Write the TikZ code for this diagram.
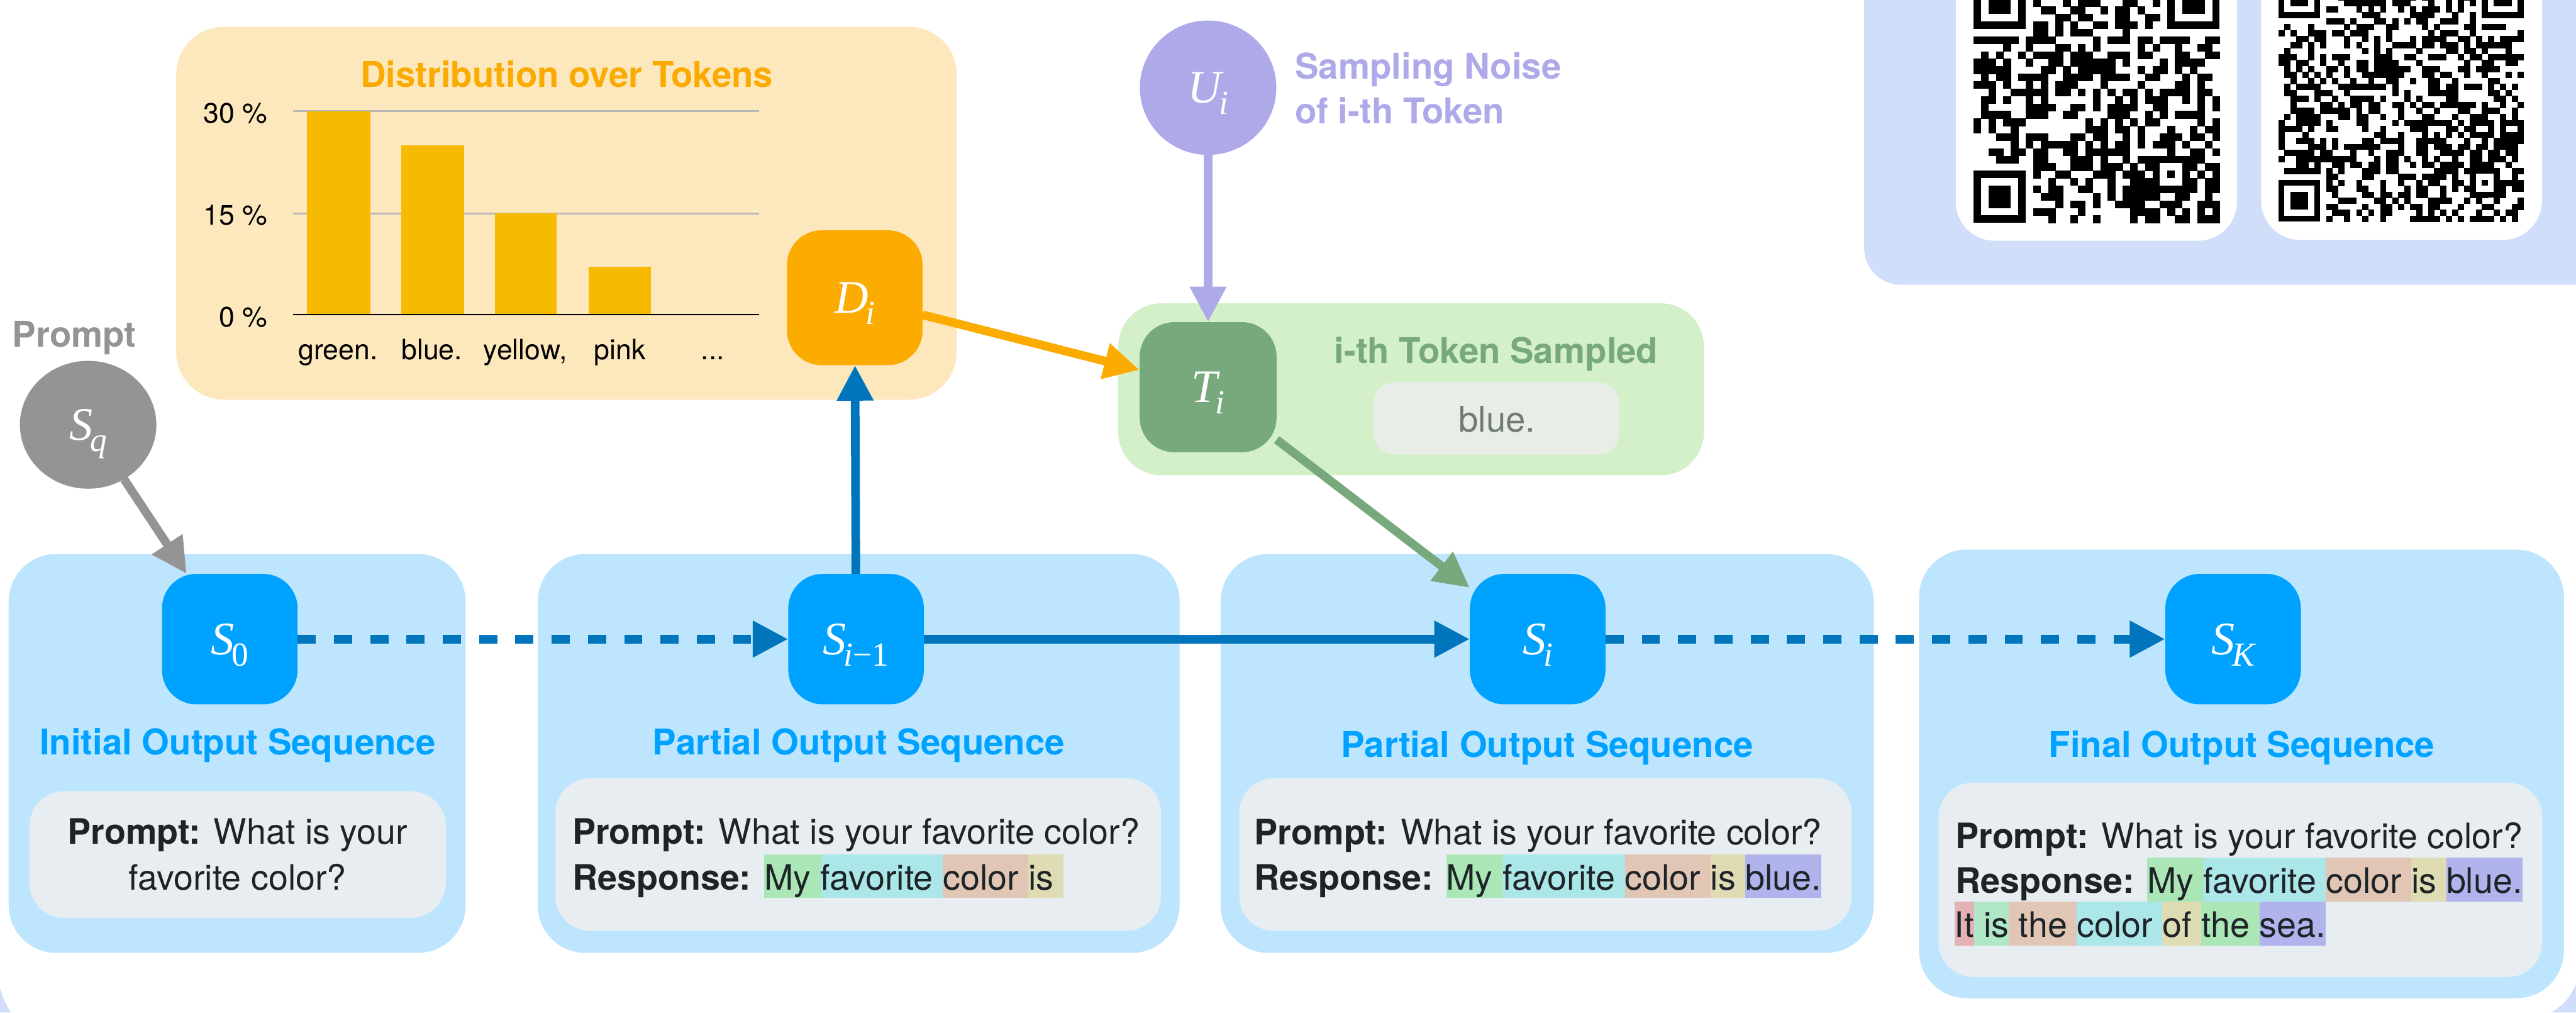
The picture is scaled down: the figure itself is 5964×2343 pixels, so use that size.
\documentclass[tikz,border=0pt]{standalone}
\usepackage{fontspec}
\setmainfont{TeX Gyre Heros}
\newfontfamily\mfont{Liberation Serif}
\usetikzlibrary{arrows.meta,shapes.geometric}
\definecolor{bglav}{HTML}{D0DEFA}
\definecolor{boxblue}{HTML}{BDE5FD}
\definecolor{nodeblue}{HTML}{00A2FF}
\definecolor{arrowblue}{HTML}{0075BC}
\definecolor{graybox}{HTML}{E8EDF1}
\definecolor{bodytext}{HTML}{1E2327}
\definecolor{distbox}{HTML}{FDE8BE}
\definecolor{barc}{HTML}{F6BB00}
\definecolor{torange}{HTML}{FAAA00}
\definecolor{dorange}{HTML}{FCAC00}
\definecolor{gridc}{HTML}{B9B9B9}
\definecolor{ulav}{HTML}{AEA9E8}
\definecolor{greenbox}{HTML}{D3F0C8}
\definecolor{tgreen}{HTML}{78A97C}
\definecolor{tokbox}{HTML}{E8EEE7}
\definecolor{tokgray}{HTML}{6F7C6F}
\definecolor{sgray}{HTML}{949494}
\definecolor{hgreen}{HTML}{ABE7B6}
\definecolor{hcyan}{HTML}{ABE7E9}
\definecolor{hpeach}{HTML}{E1C6B5}
\definecolor{hkhaki}{HTML}{DFDCB3}
\definecolor{hlav}{HTML}{B0B3EC}
\definecolor{hpink}{HTML}{E4B1B4}
\definecolor{hmint}{HTML}{B0E8C7}
\newcommand{\fbody}{\fontsize{81}{97}\selectfont}
\newcommand{\fhead}{\fontsize{82}{98}\selectfont}
\newcommand{\fchart}{\fontsize{65}{78}\selectfont}
\newcommand{\hl}[2]{{\setlength{\fboxsep}{0pt}\colorbox{#1}{\rule[-19pt]{0pt}{101pt}#2}}}
\newcommand{\ml}[2]{{\mfont\fontsize{108}{110}\selectfont\itshape #1}\kern-6pt{\mfont\fontsize{78}{80}\selectfont\raisebox{-26pt}{#2}}}
\newcommand{\finder}[3]{%
  \fill[black] ({#1},{#2}) rectangle ++({7*#3},{7*#3});
  \fill[white] ({#1+#3},{#2+#3}) rectangle ++({5*#3},{5*#3});
  \fill[black] ({#1+2*#3},{#2+2*#3}) rectangle ++({3*#3},{3*#3});}
\newcommand{\myqr}[5]{%
  \pgfmathsetseed{#5}%
  \pgfmathtruncatemacro{\qn}{#4-1}%
  \pgfmathtruncatemacro{\qb}{#4-9}%
  \foreach \i in {0,...,\qn}{\foreach \j in {0,...,\qn}{%
    \pgfmathtruncatemacro{\v}{(rnd<0.5)*(1-((\i<8)*(\j<8)+(\i>\qb)*(\j<8)+(\i<8)*(\j>\qb)))}%
    \ifnum\v=1 \fill[black] ({#1+\i*#3},{#2+\j*#3}) rectangle ++({#3+0.6},{#3+0.6});\fi
  }}%
  \finder{#1}{#2}{#3}
  \finder{#1+(#4-7)*#3}{#2}{#3}
  \finder{#1}{#2+(#4-7)*#3}{#3}
  \fill[black] ({#1+(#4-9)*#3},{#2+(#4-9)*#3}) rectangle ++({5*#3},{5*#3});
  \fill[white] ({#1+(#4-8)*#3},{#2+(#4-8)*#3}) rectangle ++({3*#3},{3*#3});
  \fill[black] ({#1+(#4-7)*#3},{#2+(#4-7)*#3}) rectangle ++({#3},{#3});
}
\begin{document}
\begin{tikzpicture}[x=1pt,y=-1pt,
  snode/.style={rectangle, rounded corners=80pt, fill=nodeblue, minimum width=314pt, minimum height=302pt, inner sep=0pt, text depth=0pt, text=white},
  cnode/.style={ellipse, minimum width=316pt, inner sep=0pt, text depth=0pt, text=white},
  conn/.style={line width=20pt, -{Triangle[length=82pt,width=80pt]}},
  dpat/.style={dash pattern=on 42pt off 42pt},
  head/.style={anchor=base, text=nodeblue, font=\fhead\bfseries, inner sep=0pt},
  body/.style={anchor=base west, text=bodytext, font=\fbody, inner sep=0pt},
  clab/.style={anchor=base, font=\fchart, inner sep=0pt},
  bigbox/.style={fill=boxblue, rounded corners=110pt},
  txtbox/.style={fill=graybox, rounded corners=80pt}]
\useasboundingbox (0,0) rectangle (5964,2343);
\clip (0,0) rectangle (5964,2343);
\fill[white] (0,0) rectangle (5964,2343);
% lavender corners of the poster background
\fill[bglav] (0,2287) .. controls (8,2311) and (12,2322) .. (25,2343) -- (0,2343) -- cycle;
\fill[bglav] (5964,2277) .. controls (5947,2313) and (5940,2321) .. (5907,2343) -- (5964,2343) -- cycle;
% QR panel
\fill[bglav, rounded corners=85pt] (4316,-300) rectangle (6200,659);
\fill[white, rounded corners=90pt] (4528,-300) rectangle (5179,557);
\fill[white, rounded corners=90pt] (5235,-300) rectangle (5885,555);
\myqr{4569}{-54}{17.27}{33}{11}
\myqr{5275}{-55}{13.85}{41}{23}
% distribution panel
\fill[fill=distbox, rounded corners=110pt] (408,62) rectangle (2215,925);
\node[anchor=base, text=torange, font=\fhead\bfseries, inner sep=0pt] (dtitle) at (1312,201) {Distribution over Tokens};
\draw[gridc, line width=4pt] (678,257) -- (1757,257);
\draw[gridc, line width=4pt] (678,494) -- (1757,494);
\fill[barc] (711,257) rectangle (858,728);
\fill[barc] (929,336) rectangle (1074,728);
\fill[barc] (1146,494) rectangle (1289,728);
\fill[barc] (1363,618) rectangle (1507,728);
\draw[black, line width=4pt] (678,728) -- (1757,728);
\node[clab, anchor=base east] (y30) at (619,285) {30 \%};
\node[clab, anchor=base east] (y15) at (619,520) {15 \%};
\node[clab, anchor=base east] (y0) at (619,756) {0 \%};
\node[clab] (xg) at (783,832) {green.};
\node[clab] (xb) at (1000,832) {blue.};
\node[clab] (xy) at (1216,832) {yellow,};
\node[clab] (xp) at (1435,832) {pink};
\node[clab] (xd) at (1650,832) {...};
% token sampled panel
\fill[greenbox, rounded corners=100pt] (2589,702) rectangle (3945,1100);
\fill[tokbox, rounded corners=50pt] (3180,884) rectangle (3749,1052);
\node[anchor=base, text=tgreen, font=\fhead\bfseries, inner sep=0pt] (ttitle) at (3464,841) {i-th Token Sampled};
\node[anchor=base, text=tokgray, font=\fhead, inner sep=0pt] (tok) at (3466,999) {blue.};
% noise label
\node[anchor=base west, text=ulav, font=\fhead\bfseries, inner sep=0pt] (nl1) at (2998,183) {Sampling Noise};
\node[anchor=base west, text=ulav, font=\fhead\bfseries, inner sep=0pt] (nl2) at (2998,286) {of i-th Token};
\node[anchor=base, text=sgray, font=\fhead\bfseries, inner sep=0pt] (plab) at (172,803) {Prompt};
% sequence panels
\fill[bigbox] (20,1282) rectangle (1078,2205);
\fill[bigbox] (1245,1282) rectangle (2731,2205);
\fill[bigbox] (2826,1282) rectangle (4338,2205);
\fill[bigbox] (4443,1272) rectangle (5936,2310);
\fill[txtbox] (68,1831) rectangle (1032,2124);
\fill[txtbox] (1286,1801) rectangle (2688,2154);
\fill[txtbox] (2869,1801) rectangle (4287,2154);
\fill[txtbox] (4488,1811) rectangle (5886,2261);
\node[head] (h1) at (550,1746) {Initial Output Sequence};
\node[head] (h2) at (1988,1746) {Partial Output Sequence};
\node[head] (h3) at (3582,1752) {Partial Output Sequence};
\node[head] (h4) at (5190,1752) {Final Output Sequence};
\node[body, anchor=base] (p1a) at (550,1953) {\textbf{Prompt:} What is your};
\node[body, anchor=base] (p1b) at (550,2059) {favorite color?};
\node[body] (p2a) at (1325,1953) {\textbf{Prompt:} What is your favorite color?};
\node[body] (p2b) at (1325,2059) {\textbf{Response:} \hl{hgreen}{My\ }\hl{hcyan}{favorite\ }\hl{hpeach}{color\ }\hl{hkhaki}{is\ }};
\node[body] (p3a) at (2904,1954) {\textbf{Prompt:} What is your favorite color?};
\node[body] (p3b) at (2904,2059) {\textbf{Response:} \hl{hgreen}{My\ }\hl{hcyan}{favorite\ }\hl{hpeach}{color\ }\hl{hkhaki}{is\ }\hl{hlav}{blue.}};
\node[body] (p4a) at (4527,1964) {\textbf{Prompt:} What is your favorite color?};
\node[body] (p4b) at (4527,2067) {\textbf{Response:} \hl{hgreen}{My\ }\hl{hcyan}{favorite\ }\hl{hpeach}{color\ }\hl{hkhaki}{is\ }\hl{hlav}{blue.}};
\node[body] (p4c) at (4525,2169) {\hl{hpink}{It}\hl{hmint}{\ is}\hl{hpeach}{\ the\ }\hl{hcyan}{color\ }\hl{hkhaki}{of\ }\hl{hgreen}{the\ }\hl{hlav}{sea.}};
% variable nodes
\node[snode] (S0) at (532,1479) {\ml{S}{0}};
\node[snode] (Sim1) at (1982,1479) {\ml{S}{{\itshape i}−1}};
\node[snode] (Si) at (3560,1479) {\ml{S}{\itshape i}};
\node[snode] (SK) at (5170,1479) {\ml{S}{\itshape K}};
\node[snode, fill=dorange, minimum height=312pt] (Di) at (1979,689) {\ml{D}{\itshape i}};
\node[snode, fill=tgreen, minimum width=317pt, minimum height=301pt] (Ti) at (2797,896) {\ml{T}{\itshape i}};
\node[cnode, fill=ulav, minimum height=311pt] (Ui) at (2797,203) {\ml{U}{\itshape i}};
\node[cnode, fill=sgray, minimum height=296pt] (Sq) at (204,983) {\ml{S}{\itshape q}};
% connectors
\draw[conn, arrowblue, dpat] (S0) -- (Sim1);
\draw[conn, arrowblue] (Sim1) -- (Si);
\draw[conn, arrowblue, dpat] (Si) -- (SK);
\draw[conn, arrowblue] (Sim1) -- (Di);
\draw[conn, dorange] (Di) -- (Ti);
\draw[conn, tgreen] (Ti) -- (Si);
\draw[conn, ulav] (Ui) -- (Ti);
\draw[conn, sgray] (Sq) -- (S0);
\end{tikzpicture}
\end{document}
